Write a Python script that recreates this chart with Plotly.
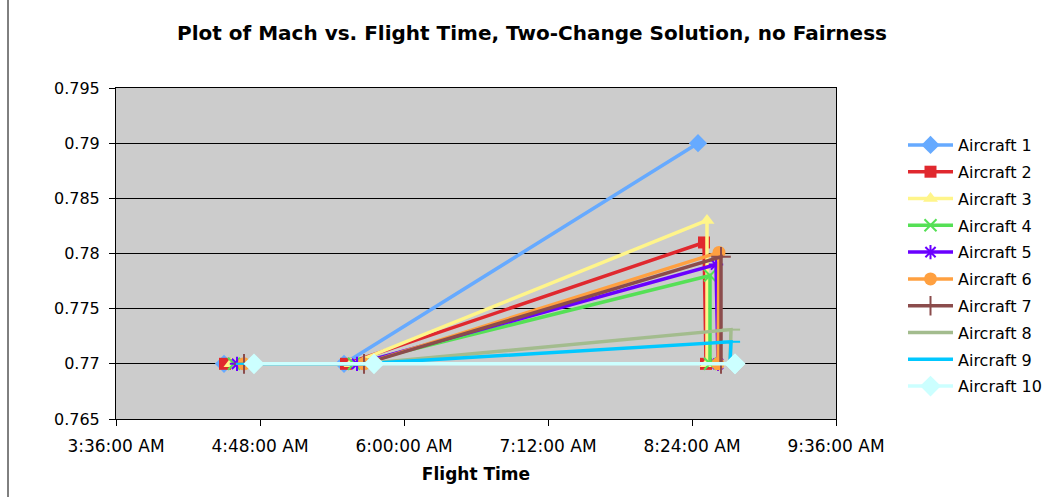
import plotly.graph_objects as go

DAY = "2000-01-01 "

names = ["Aircraft 1", "Aircraft 2", "Aircraft 3", "Aircraft 4", "Aircraft 5",
         "Aircraft 6", "Aircraft 7", "Aircraft 8", "Aircraft 9", "Aircraft 10"]

start_time = ["04:30:00", "04:30:30", "04:33:30", "04:35:00", "04:36:30",
              "04:40:00", "04:40:00", "04:40:30", "04:40:30", "04:45:00"]
change1_time = ["05:30:00", "05:31:00", "05:33:30", "05:35:00", "05:36:30",
                "05:40:00", "05:40:00", "05:40:00", "05:40:00", "05:45:00"]
change2_time = ["08:27:00", "08:30:00", "08:31:30", "08:33:00", "08:36:00",
                "08:37:30", "08:38:30", "08:43:30", "08:43:30", "08:45:30"]
end_time = [None, "08:31:00", "08:31:30", "08:33:00", "08:37:00",
            "08:37:00", "08:38:30", "08:43:00", "08:43:00", "08:45:30"]

start_mach = [0.77] * 10
change1_mach = [0.77] * 10
change2_mach = [0.790, 0.781, 0.783, 0.778, 0.779, 0.7801, 0.7797, 0.7731, 0.7720, 0.770]
end_mach = [None, 0.77, 0.77, 0.77, 0.77, 0.77, 0.77, 0.77, 0.77, 0.77]

colors = ["#66AAFF", "#E0282E", "#FFF58A", "#55E055", "#6A00FF",
          "#FFA040", "#8B4C4C", "#A3BC8E", "#00C8FF", "#CCFFFF"]
symbols = ["diamond", "square", "triangle-up", "x-thin-open", "asterisk-open",
           "circle", "cross-thin-open", "line-ew-open", "line-ew-open", "diamond"]
sizes = [14, 12, 13, 12, 12, 13, 14, 13, 13, 16]

y_ticks = [0.765, 0.77, 0.775, 0.78, 0.785, 0.79, 0.795]
y_ticktext = ["0.765", "0.77", "0.775", "0.78", "0.785", "0.79", "0.795"]
x_ticks = ["03:36:00", "04:48:00", "06:00:00", "07:12:00", "08:24:00", "09:36:00"]
x_ticktext = ["3:36:00 AM", "4:48:00 AM", "6:00:00 AM", "7:12:00 AM", "8:24:00 AM", "9:36:00 AM"]

fig = go.Figure()
for i, n in enumerate(names):
    xs = [start_time[i], change1_time[i], change2_time[i], end_time[i]]
    ys = [start_mach[i], change1_mach[i], change2_mach[i], end_mach[i]]
    xs2, ys2 = [], []
    for a, b in zip(xs, ys):
        if a is not None:
            xs2.append(DAY + a)
            ys2.append(b)
    open_sym = symbols[i].endswith("-open")
    fig.add_trace(go.Scatter(
        x=xs2, y=ys2, name=n, mode="lines+markers", legendgroup=n,
        line=dict(color=colors[i], width=3.5),
        marker=dict(symbol=symbols[i], size=sizes[i], color=colors[i],
                    line=dict(color=colors[i], width=2 if open_sym else 0)),
    ))

fig.update_layout(
    width=1046, height=497,
    margin=dict(l=116, r=210, t=88, b=78),
    paper_bgcolor="white", plot_bgcolor="#CCCCCC",
    font=dict(family="DejaVu Sans, Verdana, sans-serif", size=16, color="black"),
    title=dict(text="<b>Plot of Mach vs. Flight Time, Two-Change Solution, no Fairness</b>",
               x=532 / 1046, xanchor="center", xref="container", y=1 - 33 / 497, yanchor="middle",
               font=dict(size=20, color="black")),
    showlegend=True,
    legend=dict(xref="container", yref="container", x=903 / 1046, y=1 - 128 / 497,
                xanchor="left", yanchor="top", maxheight=1.0,
                font=dict(size=16, color="black"), bgcolor="rgba(0,0,0,0)",
                tracegroupgap=3, itemwidth=45),
    xaxis=dict(type="date",
               range=[DAY + x_ticks[0], DAY + x_ticks[-1]],
               tickvals=[DAY + t for t in x_ticks], ticktext=x_ticktext,
               showgrid=False, zeroline=False,
               showline=True, linecolor="black", linewidth=1, mirror=True,
               ticks="outside", ticklen=6, tickcolor="black", ticklabelstandoff=6,
               tickfont=dict(size=17),
               title=dict(text="<b>Flight Time</b>", font=dict(size=17), standoff=12)),
    yaxis=dict(range=[0.765, 0.795], tickvals=y_ticks, ticktext=y_ticktext,
               showgrid=True, gridcolor="black", gridwidth=1, zeroline=False,
               showline=True, linecolor="black", linewidth=1, mirror=True,
               ticks="outside", ticklen=6, tickcolor="black", ticklabelstandoff=6),
)

fig.add_shape(type="line", xref="paper", yref="paper",
              x0=(8 - 116) / 720, x1=(8 - 116) / 720, y0=-1, y1=2,
              line=dict(color="black", width=1))

fig.write_html("out.html", config={"displayModeBar": False},
               post_script="document.body.style.margin='0px';")
